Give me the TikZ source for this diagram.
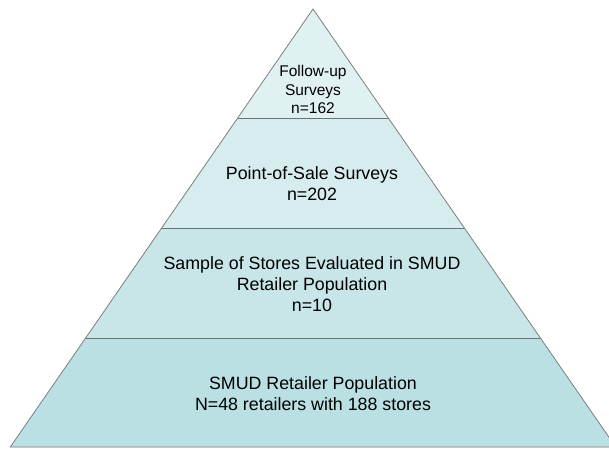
\documentclass[tikz,border=0pt]{standalone}
\usepackage{fontspec}
\setmainfont{Liberation Sans}
\usetikzlibrary{calc}
\definecolor{bandtop}{RGB}{224,241,242}
\definecolor{bandpos}{RGB}{214,236,238}
\definecolor{bandsample}{RGB}{200,230,232}
\definecolor{bandbase}{RGB}{186,224,227}
\definecolor{rand}{RGB}{128,128,128}
\definecolor{trenner}{RGB}{105,115,117}
\tikzset{
  divider/.style={draw=trenner, line width=0.9pt},
  pyrtext/.style={align=center, inner sep=0pt, text=black, font=\fontsize{17.8}{21}\selectfont},
}

\begin{document}
\begin{tikzpicture}[x=1pt,y=-1pt]

    \useasboundingbox (0,0) rectangle (609,450);
    \clip (0,0) rectangle (609,450);

    % corners of the pyramid
    \coordinate (apex) at (313,9);
    \coordinate (l1) at (237.5,118.3);
    \coordinate (r1) at (388.5,118.3);
    \coordinate (l2) at (161.7,228);
    \coordinate (r2) at (464.3,228);
    \coordinate (l3) at (85.6,338);
    \coordinate (r3) at (540.4,338);
    \coordinate (l4) at (10.3,447);
    \coordinate (r4) at (615.7,447);

    % shadow
    \fill[gray!75, xshift=2pt, yshift=-2pt] (apex) -- (r4) -- (l4) -- cycle;

    \fill[bandtop] (apex) -- (r1) -- (l1) -- cycle;
    \fill[bandpos] (l1) -- (r1) -- (r2) -- (l2) -- cycle;
    \fill[bandsample] (l2) -- (r2) -- (r3) -- (l3) -- cycle;
    \fill[bandbase] (l3) -- (r3) -- (r4) -- (l4) -- cycle;

    \draw[divider] (l1) -- (r1);
    \draw[divider] (l2) -- (r2);
    \draw[divider] (l3) -- (r3);

    \draw[rand, line width=0.8pt] (apex) -- (r4) -- (l4) -- cycle;

    \node[pyrtext, font=\fontsize{15.5}{18.3}\selectfont] (followup) at (313,89.5) {Follow-up\\Surveys\\n=162};
    \node[pyrtext] (pos) at (312,184) {Point-of-Sale Surveys\\n=202};
    \node[pyrtext] (sample) at (312,284.5) {Sample of Stores Evaluated in SMUD\\Retailer Population\\n=10};
    \node[pyrtext] (population) at (313,394) {SMUD Retailer Population\\N=48 retailers with 188 stores};

\end{tikzpicture}
\end{document}
